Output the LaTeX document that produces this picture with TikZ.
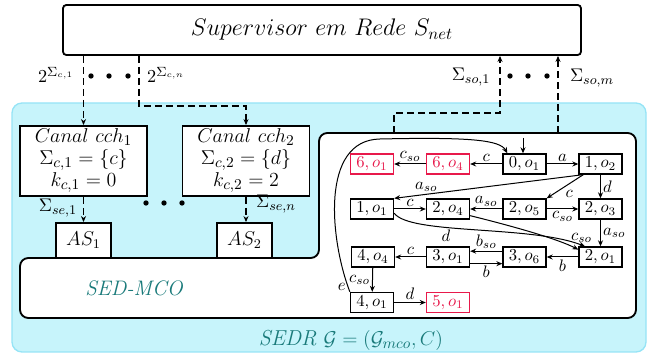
\documentclass[tikz,border=0pt]{standalone}
\usetikzlibrary{arrows.meta}
\definecolor{bgcyan}{RGB}{199,244,251}
\definecolor{bgedge}{RGB}{150,228,246}
\definecolor{tealtext}{RGB}{25,122,122}
\definecolor{alarm}{RGB}{232,25,75}
\begin{document}
\begin{tikzpicture}[x=0.6pt,y=-0.6pt,
  font=\fontsize{11}{13.5}\selectfont,
  >={Stealth[length=3.6pt,width=3pt]},
  box/.style={draw,line width=1.1pt,inner sep=0pt,fill=white},
  canal/.style={box,minimum width=76.2pt,minimum height=42pt,align=center,
    font=\fontsize{12.4}{13.2}\selectfont},
  asbox/.style={box,minimum width=33pt,minimum height=21pt,font=\large},
  st/.style={draw,line width=0.8pt,fill=white,minimum width=25.8pt,minimum height=12pt,
    inner sep=0pt,font=\fontsize{10.2}{12}\selectfont},
  bad/.style={st,draw=alarm,text=alarm},
  tr/.style={->,line width=0.6pt},
  lbl/.style={inner sep=1.2pt,font=\fontsize{10.2}{12}\selectfont},
  sig/.style={line width=0.9pt,dash pattern=on 4pt off 2.6pt},
  dot/.style={circle,fill,inner sep=0pt,minimum size=3.2pt}]
\useasboundingbox (0,0) rectangle (654,356);

% networked plant region
\draw[fill=bgcyan,draw=bgedge,line width=0.8pt,rounded corners=6pt] (12,103) rectangle (646,352);

% supervisor
\node[box,rounded corners=2pt,minimum width=310.8pt,minimum height=30pt,
  font=\fontsize{13.8}{16}\selectfont] (sup) at (322,30)
  {$Supervisor\ em\ Rede\ S_{net}$};

% channels
\node[canal] (c1) at (83.5,161)
  {\setlength{\lineskiplimit}{-20pt}$Canal\ cch_1$\\ $\Sigma_{c,1}=\{c\}$\\ $k_{c,1}=0$};
\node[canal] (c2) at (246,161)
  {\setlength{\lineskiplimit}{-20pt}$Canal\ cch_2$\\ $\Sigma_{c,2}=\{d\}$\\ $k_{c,2}=2$};

% SED-MCO outline
\draw[line width=1.1pt,fill=white,rounded corners=5pt]
  (319,258) -- (319,133) -- (636,133) -- (636,318) -- (20,318) -- (20,258) -- cycle;

% actuator sites
\node[asbox] (as1) at (83.5,240.5) {$AS_1$};
\node[asbox] (as2) at (244.5,240.5) {$AS_2$};

% control signals
\draw[sig,->] (sup.south -| c1.north) -- (c1.north);
\draw[sig,->] (sup.south -| 139,0) -- (139,106) -| (c2.north);
\node (l1) at (56,75) {$2^{\Sigma_{c,1}}$};
\node (ln) at (166,75) {$2^{\Sigma_{c,n}}$};
\node[dot] (d1) at (91,76) {};
\node[dot] (d2) at (109,76) {};
\node[dot] (d3) at (128,76) {};

\draw[sig,->] (c1.south) -- (c1.south |- as1.north);
\draw[sig,->] (c2.south) -- (c2.south |- as2.north);
\node (se1) at (58,208) {$\Sigma_{se,1}$};
\node (sen) at (276,204) {$\Sigma_{se,n}$};
\node[dot] (d4) at (146,203) {};
\node[dot] (d5) at (164,203) {};
\node[dot] (d6) at (182,203) {};

% observation signals
\coordinate (up1) at (394,133);
\coordinate (up2) at (558,133);
\draw[sig,->] (up1) -- (394,113) -| (sup.south -| 500,0);
\draw[sig,->] (up2) -- (sup.south -| up2);
\node (so1) at (471,77) {$\Sigma_{so,1}$};
\node (som) at (592,78) {$\Sigma_{so,m}$};
\node[dot] (d7) at (510,76) {};
\node[dot] (d8) at (528,76) {};
\node[dot] (d9) at (547,76) {};

\node[text=tealtext,font=\fontsize{12.6}{15}\selectfont\itshape] (mco) at (134,288) {SED-MCO};
\node[text=tealtext,font=\fontsize{13}{15}\selectfont] (sedr) at (351,340)
  {\textit{SEDR} $\mathcal{G}=(\mathcal{G}_{mco},C)$};

% automaton states
\node[bad] (s61) at (372,164) {$6,o_1$};
\node[bad] (s64) at (448,164) {$6,o_4$};
\node[st]  (s01) at (524.5,164) {$0,o_1$};
\node[st]  (s12) at (600.5,164) {$1,o_2$};
\node[st]  (s11) at (372,209) {$1,o_1$};
\node[st]  (s24) at (448,209) {$2,o_4$};
\node[st]  (s25) at (524.5,209) {$2,o_5$};
\node[st]  (s23) at (600.5,209) {$2,o_3$};
\node[st]  (s44) at (373,257) {$4,o_4$};
\node[st]  (s31) at (448,257) {$3,o_1$};
\node[st]  (s36) at (524.5,257) {$3,o_6$};
\node[st]  (s21) at (600.5,257) {$2,o_1$};
\node[st]  (s41) at (372,302.5) {$4,o_1$};
\node[bad] (s51) at (448,302.5) {$5,o_1$};

% initial state marker
\coordinate (init) at (523,138);
\draw[tr] (init) -- (init |- s01.north);

% transitions
\draw[tr] (s01) -- node[above,lbl] {$c$} (s64);
\draw[tr] (s64) -- node[above,lbl] {$c_{so}$} (s61);
\draw[tr] (s01) -- node[above,lbl] {$a$} (s12);
\draw[tr] ([xshift=3pt]s12.south west) -- node[pos=0.83,above,lbl] {$a_{so}$} (s11.north east);
\draw[tr] ([xshift=3pt]s12.south west) -- node[pos=0.55,below right,lbl] {$c$} (s25.north east);
\draw[tr] (s12) -- node[right,lbl] {$d$} (s23);
\draw[tr] (s11) -- node[above,lbl] {$c$} (s24);
\draw[tr] (s25) -- node[above,lbl] {$a_{so}$} (s24);
\draw[tr] (s25) -- node[below,lbl] {$c_{so}$} (s23);
\draw[tr] (s23) -- node[right,lbl] {$a_{so}$} (s21);
\draw[tr] ([yshift=-4pt]s24.east) .. controls (520,228) and (560,240) .. ([yshift=-2pt]s21.north west)
  node[pos=0.85,anchor=south west,lbl] {$c_{so}$};
\draw[tr] ([yshift=-2.5pt]s11.east) .. controls (410,235) and (530,225) .. ([xshift=4pt]s21.north west)
  node[pos=0.37,below,lbl] {$d$};
\draw[tr] ([yshift=3.5pt]s36.west) -- node[above,lbl] {$b_{so}$} ([yshift=3.5pt]s31.east);
\draw[tr] ([yshift=-4pt]s31.east) -- node[below,lbl] {$b$} ([yshift=-4pt]s36.west);
\draw[tr] (s21) -- node[below,lbl] {$b$} (s36);
\draw[tr] (s31) -- node[above,lbl] {$c$} (s44);
\draw[tr] (s44) -- node[left,lbl] {$c_{so}$} (s41);
\draw[tr] (s41) -- node[above,lbl] {$d$} (s51);
\draw[tr] (s41.north west) .. controls (330,240) and (320,140) .. (380,139)
  node[pos=0.03,left,lbl] {$e$}
  .. controls (470,137) and (500,140) .. ([xshift=3pt]s01.north west);
\end{tikzpicture}
\end{document}
